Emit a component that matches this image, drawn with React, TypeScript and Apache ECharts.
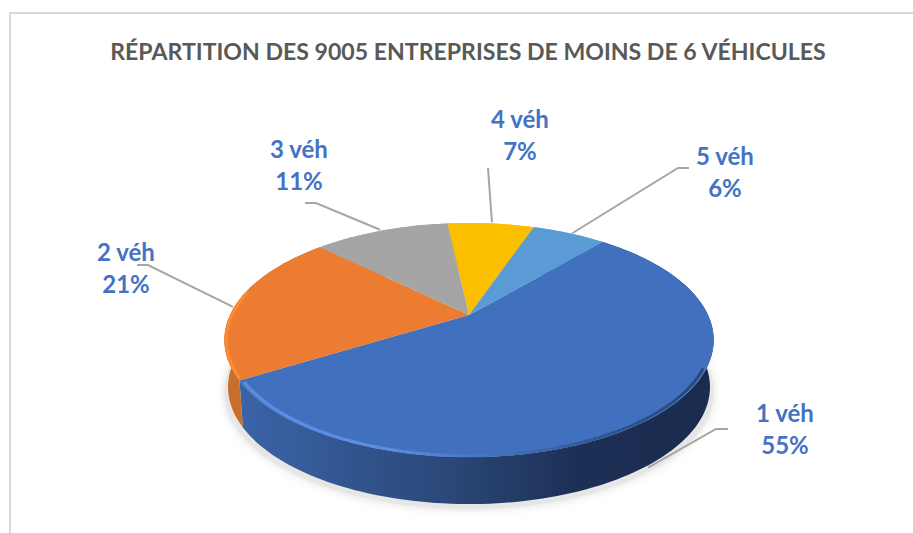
import React, { useEffect, useRef } from "react";
import * as echarts from "echarts";

const TITLE = "RÉPARTITION DES 9005 ENTREPRISES DE MOINS DE 6 VÉHICULES";
const CATEGORIES = ["1 véh", "2 véh", "3 véh", "4 véh", "5 véh"];
const VALUES = [55, 21, 11, 7, 6];

const TOP_COLORS = ["#4070be", "#eb7c31", "#a5a5a5", "#fcbf00", "#5b9bd5"];
const FIRST_ANGLE = 40.6;

// Perspective disc layout
const CX = 469, HUB_Y = 315, RX = 239, RY = 111.7, K = 0.2137, DEPTH = 47;
// Layout of the labels: text centre, leader elbow, leader end, nudge of the leader's root
const LABEL_AT = [[785, 428], [126, 267], [299, 164], [520, 134], [725, 171]];
const ELBOW = [[716, 429], [148, 265], [316, 203], [null, null], [678, 168]];
const LEADER_END = [[728, 429], [137, 265], [305, 203], [488, 168], [689, 168]];
const ROOT_NUDGE = [[-6, 4], [-4, 4], [-1, -1], [1, -1], [3, 0]];

const rad = (d: number) => (d * Math.PI) / 180;
const project = (deg: number, dy = 0, scale = 1, r = 1) => {
  const u = Math.sin(rad(deg)) * r;
  const v = -Math.cos(rad(deg)) * r;
  const w = 1 - K * v;
  return [CX + (scale * RX * u) / w, HUB_Y + (RY * v) / w + dy];
};
const arc = (a0: number, a1: number, dy = 0, scale = 1, r = 1) => {
  const n = Math.max(2, Math.ceil(Math.abs(a1 - a0) / 1.5));
  const pts: number[][] = [];
  for (let i = 0; i <= n; i++) pts.push(project(a0 + ((a1 - a0) * i) / n, dy, scale, r));
  return pts;
};
const total = VALUES.reduce((a, b) => a + b, 0);
const sliceRange = (idx: number) => {
  let a = FIRST_ANGLE;
  for (let i = 0; i < idx; i++) a += (VALUES[i] / total) * 360;
  return [a, a + (VALUES[idx] / total) * 360];
};

const G = (echarts as any).graphic;
const blueSide = new G.LinearGradient(0, 0, 1, 0, [
  { offset: 0, color: "#3a64a8" },
  { offset: 0.45, color: "#2a4777" },
  { offset: 0.72, color: "#1c2f55" },
  { offset: 1, color: "#1a2b4e" },
]);
const blueRim = new G.LinearGradient(1, 0, 0, 0, [
  { offset: 0, color: "#2a4880" },
  { offset: 0.2, color: "#2f5290" },
  { offset: 0.45, color: "#4471bd" },
  { offset: 0.7, color: "#5a8ee4" },
  { offset: 1, color: "#5a8ee4" },
]);

const renderShadow = () => ({
  type: "polygon",
  silent: true,
  shape: { points: arc(0, 360, DEPTH + 5, 1.0) },
  style: { fill: "#e6e6e6", shadowBlur: 10, shadowColor: "#dedede" },
});

const renderSide = (params: any) => {
  const i = params.dataIndex;
  const [a0, a1] = sliceRange(i);
  const top = arc(a0, a1, 0);
  const bottom = arc(a0, a1, DEPTH, 0.985).reverse();
  return {
    type: "polygon",
    silent: true,
    shape: { points: top.concat(bottom) },
    style: { fill: i === 0 ? blueSide : i === 1 ? "#c96f2d" : TOP_COLORS[i] },
  };
};

const renderTop = (params: any) => {
  const i = params.dataIndex;
  const [a0, a1] = sliceRange(i);
  const children: any[] = [
    {
      type: "polygon",
      silent: true,
      shape: { points: [[CX, HUB_Y]].concat(arc(a0, a1)) },
      style: { fill: TOP_COLORS[i] },
    },
  ];
  if (i === 0) {
    children.push({
      type: "polyline",
      silent: true,
      shape: { points: arc(116, a1 - 1, 0, 0.995, 0.993) },
      style: { stroke: blueRim, lineWidth: 3, fill: "none" },
    });
  }
  if (i === 1) {
    children.push({
      type: "polyline",
      silent: true,
      shape: { points: arc(a0 + 1, a0 + 44, 0, 0.995, 0.997) },
      style: { stroke: "#ff8a33", lineWidth: 3, fill: "none" },
    });
  }
  return { type: "group", children };
};

const renderLabel = (params: any) => {
  const i = params.dataIndex;
  const [a0, a1] = sliceRange(i);
  const mid = (a0 + a1) / 2;
  const root = project(mid, i === 0 ? DEPTH : 0);
  const start = [root[0] + ROOT_NUDGE[i][0], root[1] + ROOT_NUDGE[i][1]];
  const pts: number[][] = [start];
  if (ELBOW[i][0] !== null) pts.push(ELBOW[i] as number[]);
  pts.push(LEADER_END[i]);
  const pct = Math.round((VALUES[i] / total) * 100);
  return {
    type: "group",
    children: [
      {
        type: "polyline",
        silent: true,
        shape: { points: pts },
        style: { stroke: "#a6a6a6", lineWidth: 2, fill: "none" },
      },
      {
        type: "text",
        silent: true,
        style: {
          text: `${CATEGORIES[i]}\n${pct}%`,
          x: LABEL_AT[i][0],
          y: LABEL_AT[i][1],
          align: "center",
          verticalAlign: "middle",
          textAlign: "center",
          textVerticalAlign: "middle",
          fill: "#4472c4",
          font: "bold 24px Lato",
          lineHeight: 32,
        },
      },
    ],
  };
};

export default function App() {
  const ref = useRef<HTMLDivElement>(null);
  useEffect(() => {
    document.body.style.margin = "0";
    const chart = echarts.init(ref.current!, undefined, { renderer: "svg" });
    const rows = VALUES.map((v, i) => ({ name: CATEGORIES[i], value: v }));
    chart.setOption({
      animation: false,
      backgroundColor: "#ffffff",
      title: {
        text: TITLE,
        left: 463,
        top: 34,
        textAlign: "center",
        textStyle: { fontFamily: "Lato", fontWeight: "bold", fontSize: 23.1, color: "#595959" },
      },
      graphic: [
        {
          type: "polyline",
          silent: true,
          shape: { points: [[10, 533], [10, 13], [913, 13]] },
          style: { stroke: "#d9d9d9", lineWidth: 2, fill: "none" },
        },
      ],
      series: [
        { type: "custom", coordinateSystem: "none", data: [total], renderItem: renderShadow, silent: true, z: 1 },
        { type: "custom", coordinateSystem: "none", data: rows, renderItem: renderSide, silent: true, z: 2 },
        { type: "custom", coordinateSystem: "none", data: rows, renderItem: renderTop, silent: true, z: 3 },
        { type: "custom", coordinateSystem: "none", data: rows, renderItem: renderLabel, silent: true, z: 4 },
      ],
    });
    return () => chart.dispose();
  }, []);
  return <div ref={ref} style={{ width: 913, height: 533 }} />;
}
